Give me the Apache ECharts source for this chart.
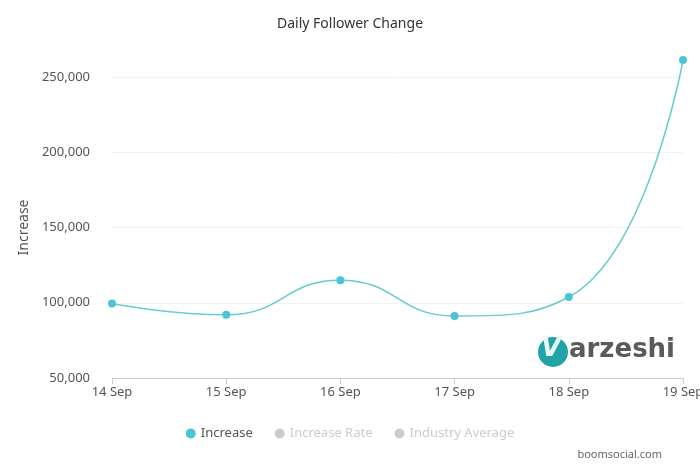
<!DOCTYPE html>
<html>
<head>
<meta charset="utf-8">
<script src="https://cdn.jsdelivr.net/npm/echarts@6/dist/echarts.min.js"></script>
<style>
  html, body { margin: 0; padding: 0; background: #fff; }
  #chart { width: 700px; height: 467px; }
</style>
</head>
<body>
<div id="chart"></div>
<script>
// data
const categories = ['14 Sep', '15 Sep', '16 Sep', '17 Sep', '18 Sep', '19 Sep']
const increaseValues = [99500, 92000, 115000, 91200, 103800, 261300]
const increaseRateValues = []
const industryAverageValues = []
const yTicks = [50000, 100000, 150000, 200000, 250000]

const FONT = 'Noto Sans'
const chart = echarts.init(document.getElementById('chart'))

chart.setOption({
  animation: false,
  title: {
    text: 'Daily Follower Change',
    left: 'center',
    top: 12,
    textStyle: { color: '#333', fontSize: 14, fontWeight: 'normal', fontFamily: FONT },
  },
  legend: {
    bottom: 22,
    left: 'center',
    icon: 'circle',
    itemWidth: 10,
    itemHeight: 10,
    itemGap: 22,
    inactiveColor: '#ccc',
    textStyle: { color: '#555', fontSize: 13, fontFamily: FONT },
    data: ['Increase', 'Increase Rate', 'Industry Average'],
    selected: { 'Increase Rate': false, 'Industry Average': false },
  },
  grid: { left: 112, right: 17, top: 77, bottom: 89, outerBoundsMode: 'none' },
  xAxis: {
    type: 'category',
    boundaryGap: false,
    data: categories,
    axisLine: { lineStyle: { color: '#ccc' } },
    axisTick: { lineStyle: { color: '#ccc' }, length: 6 },
    axisLabel: { color: '#555', fontSize: 13, fontFamily: FONT, margin: 8 },
  },
  yAxis: {
    type: 'value',
    min: yTicks[0],
    max: yTicks[yTicks.length - 1],
    interval: 50000,
    name: 'Increase',
    nameLocation: 'middle',
    nameGap: 77,
    nameTextStyle: { color: '#555', fontSize: 14, fontFamily: FONT },
    axisLine: { show: false },
    axisTick: { show: false },
    axisLabel: {
      color: '#555',
      fontSize: 13,
      fontFamily: FONT,
      margin: 22,
      formatter: (v) => v.toLocaleString('en-US'),
    },
    splitLine: { lineStyle: { color: '#f2f2f2' } },
  },
  series: [
    {
      name: 'Increase',
      type: 'line',
      smooth: true,
      clip: false,
      data: increaseValues,
      symbol: 'circle',
      symbolSize: 8,
      lineStyle: { color: '#66cccc', width: 1.5 },
      itemStyle: { color: '#4cc3d6' },
    },
    { name: 'Increase Rate', type: 'line', data: increaseRateValues, itemStyle: { color: '#8fd3a8' } },
    { name: 'Industry Average', type: 'line', data: industryAverageValues, itemStyle: { color: '#f5b86b' } },
  ],
  // watermark: varzeshi logo + site name
  graphic: [
    {
      type: 'circle',
      shape: { cx: 553, cy: 352, r: 15 },
      style: { fill: '#23a3a6' },
      silent: true,
    },
    {
      type: 'text',
      left: 541,
      top: 336,
      style: { text: 'V', fill: '#e8f7f7', font: 'italic bold 26px "DejaVu Sans"' },
      silent: true,
    },
    {
      type: 'text',
      left: 569,
      top: 337,
      style: { text: 'arzeshi', fill: '#5a5a5a', font: 'bold 26px "DejaVu Sans"' },
      silent: true,
    },
    {
      type: 'text',
      right: 38,
      bottom: 7,
      style: { text: 'boomsocial.com', fill: '#666', font: '11px "Noto Sans"' },
      silent: true,
    },
  ],
})
</script>
</body>
</html>
